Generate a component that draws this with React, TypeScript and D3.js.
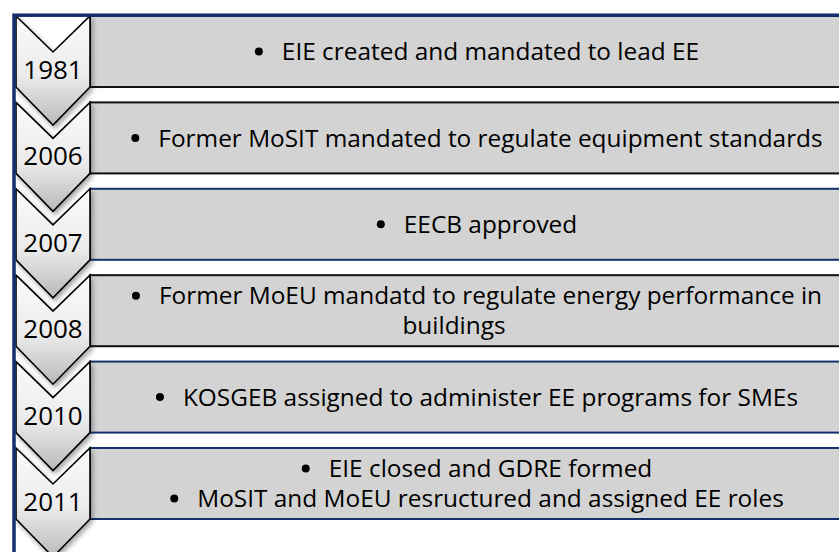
import React, { useEffect, useRef } from "react";
import * as d3 from "d3";

// timeline rows
const years = ["1981", "2006", "2007", "2008", "2010", "2011"];
// one entry per bullet paragraph, "|" = manual line wrap
const events: string[][] = [
  ["EIE created and mandated to lead EE"],
  ["Former MoSIT mandated to regulate equipment standards"],
  ["EECB approved"],
  ["Former MoEU mandatd to regulate energy performance in|buildings"],
  ["KOSGEB assigned to administer EE programs for SMEs"],
  ["EIE closed and GDRE formed", "MoSIT and MoEU resructured and assigned EE roles"],
];
const NAVY = "#14306e";
const boxStroke = ["#111", "#111", NAVY, "#111", NAVY, NAVY];

const W = 839;
const H = 552;

function App() {
  const ref = useRef<SVGSVGElement>(null);

  useEffect(() => {
    const svg = d3.select(ref.current);
    svg.selectAll("*").remove();

    const font = "'Open Sans', Lato, sans-serif";
    const fontSize = 24.4;
    const capH = fontSize * 0.714;
    const lineH = 30;

    const chevL = 16;
    const chevR = 90;
    const chevMid = (chevL + chevR) / 2;
    const notch = 36;
    const tip = 38;
    const textCx = 477;
    const bulletR = 4;
    const indent = 23; // bullet centre -> text start

    const y = d3.scaleBand<string>().domain(years).range([16, 519]).paddingInner(0.178).paddingOuter(0);

    const defs = svg.append("defs");
    const grad = defs.append("linearGradient").attr("id", "chev").attr("x1", 0).attr("y1", 0).attr("x2", 0).attr("y2", 1);
    grad.append("stop").attr("offset", "0%").attr("stop-color", "#fbfbfb");
    grad.append("stop").attr("offset", "55%").attr("stop-color", "#ebebeb");
    grad.append("stop").attr("offset", "100%").attr("stop-color", "#b9b9b9");
    const f = defs.append("filter").attr("id", "shadow").attr("x", "-20%").attr("y", "-20%").attr("width", "150%").attr("height", "150%");
    f.append("feDropShadow").attr("dx", 2).attr("dy", 3).attr("stdDeviation", 2.5).attr("flood-color", "#000").attr("flood-opacity", 0.35);

    svg.append("rect").attr("width", W).attr("height", H).attr("fill", "#fff");

    // boxes
    svg.selectAll("rect.box")
      .data(years)
      .join("rect")
      .attr("class", "box")
      .attr("x", chevR)
      .attr("y", d => y(d)!)
      .attr("width", 900)
      .attr("height", y.bandwidth())
      .attr("fill", "#d3d3d3")
      .attr("stroke", (d, i) => boxStroke[i])
      .attr("stroke-width", 2);

    // chevrons
    const chevPath = (top: number) => {
      const bot = top + y.bandwidth();
      const p = d3.path();
      p.moveTo(chevL, top);
      p.lineTo(chevMid, top + notch);
      p.lineTo(chevR, top);
      p.lineTo(chevR, bot);
      p.lineTo(chevMid, bot + tip);
      p.lineTo(chevL, bot);
      p.closePath();
      return p.toString();
    };

    svg.selectAll("path.chev")
      .data(years)
      .join("path")
      .attr("class", "chev")
      .attr("d", d => chevPath(y(d)!))
      .attr("fill", "url(#chev)")
      .attr("stroke", "#000")
      .attr("stroke-width", 1.6)
      .attr("filter", "url(#shadow)");

    svg.selectAll("text.year")
      .data(years)
      .join("text")
      .attr("class", "year")
      .attr("x", chevMid)
      .attr("y", d => y(d)! + 63)
      .attr("text-anchor", "middle")
      .attr("font-family", font)
      .attr("font-size", 26)
      .attr("fill", "#000")
      .text(d => d);

    // bullet text
    years.forEach((yr, i) => {
      const lines: { text: string; bullet: boolean }[] = [];
      events[i].forEach(par => {
        par.split("|").forEach((t, k) => lines.push({ text: t, bullet: k === 0 }));
      });
      const cy = y(yr)! + y.bandwidth() / 2;
      lines.forEach((ln, j) => {
        const base = cy + capH / 2 + (j - (lines.length - 1) / 2) * lineH;
        const t = svg.append("text")
          .attr("y", base)
          .attr("font-family", font)
          .attr("font-size", fontSize)
          .attr("fill", "#000")
          .text(ln.text);
        const w = (t.node() as SVGTextElement).getComputedTextLength();
        if (ln.bullet) {
          const left = textCx - (w + indent + bulletR) / 2;
          t.attr("x", left + bulletR + indent);
          svg.append("circle")
            .attr("cx", left + bulletR)
            .attr("cy", base - capH / 2)
            .attr("r", bulletR)
            .attr("fill", "#000");
        } else {
          t.attr("x", textCx - indent - w / 2);
        }
      });
    });

    // outer frame
    svg.append("rect")
      .attr("x", 14)
      .attr("y", 15.2)
      .attr("width", 900)
      .attr("height", 700)
      .attr("fill", "none")
      .attr("stroke", NAVY)
      .attr("stroke-width", 3.5);
  }, []);

  return (
    <svg
      ref={ref}
      width={W}
      height={H}
      style={{ position: "absolute", left: 0, top: 0, display: "block" }}
    />
  );
}

export default App;
